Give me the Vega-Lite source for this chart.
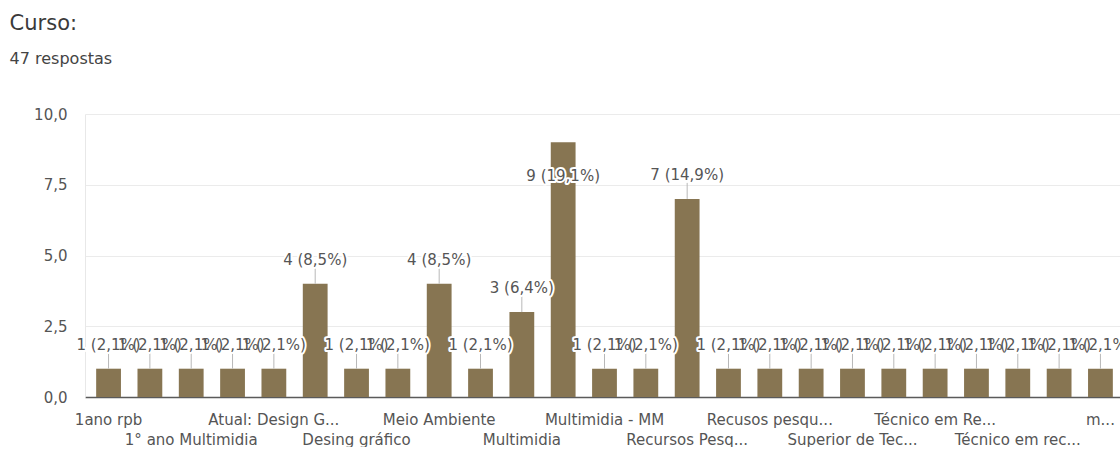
{
  "$schema": "https://vega.github.io/schema/vega-lite/v6.json",
  "width": 1039,
  "height": 283,
  "padding": {"left": 9, "top": 13, "right": 0, "bottom": 0},
  "background": "white",
  "title": {
    "text": "Curso:",
    "subtitle": "47 respostas",
    "anchor": "start",
    "frame": "bounds",
    "dx": -24,
    "font": "DejaVu Sans",
    "fontSize": 21,
    "fontWeight": "normal",
    "color": "#3a3a3a",
    "subtitleFont": "DejaVu Sans",
    "subtitleFontSize": 16,
    "subtitleColor": "#444444",
    "subtitlePadding": 17,
    "offset": 40
  },
  "data": {
    "values": [
      {"curso": "1ano rpb", "n": 1, "rotulo": "1 (2,1%)"},
      {"curso": "1° ano Design", "n": 1, "rotulo": "1 (2,1%)"},
      {"curso": "1° ano Multimidia", "n": 1, "rotulo": "1 (2,1%)"},
      {"curso": "Administração", "n": 1, "rotulo": "1 (2,1%)"},
      {"curso": "Atual: Design G...", "n": 1, "rotulo": "1 (2,1%)"},
      {"curso": "Design Gráfico", "n": 4, "rotulo": "4 (8,5%)"},
      {"curso": "Desing gráfico", "n": 1, "rotulo": "1 (2,1%)"},
      {"curso": "Gestão Ambiental", "n": 1, "rotulo": "1 (2,1%)"},
      {"curso": "Meio Ambiente", "n": 4, "rotulo": "4 (8,5%)"},
      {"curso": "Moda", "n": 1, "rotulo": "1 (2,1%)"},
      {"curso": "Multimidia", "n": 3, "rotulo": "3 (6,4%)"},
      {"curso": "Multimídia", "n": 9, "rotulo": "9 (19,1%)"},
      {"curso": "Multimidia - MM", "n": 1, "rotulo": "1 (2,1%)"},
      {"curso": "Pedagogia", "n": 1, "rotulo": "1 (2,1%)"},
      {"curso": "Recursos Pesq...", "n": 7, "rotulo": "7 (14,9%)"},
      {"curso": "Recursos pesqueiros", "n": 1, "rotulo": "1 (2,1%)"},
      {"curso": "Recusos pesqu...", "n": 1, "rotulo": "1 (2,1%)"},
      {"curso": "Redes de Computadores", "n": 1, "rotulo": "1 (2,1%)"},
      {"curso": "Superior de Tec...", "n": 1, "rotulo": "1 (2,1%)"},
      {"curso": "Técnico em Pesca", "n": 1, "rotulo": "1 (2,1%)"},
      {"curso": "Técnico em Re...", "n": 1, "rotulo": "1 (2,1%)"},
      {"curso": "Técnico em Recursos P...", "n": 1, "rotulo": "1 (2,1%)"},
      {"curso": "Técnico em rec...", "n": 1, "rotulo": "1 (2,1%)"},
      {"curso": "Zootecnia", "n": 1, "rotulo": "1 (2,1%)"},
      {"curso": "m...", "n": 1, "rotulo": "1 (2,1%)"}
    ]
  },
  "encoding": {
    "x": {
      "field": "curso",
      "type": "nominal",
      "sort": null,
      "scale": {"paddingInner": 0.4, "paddingOuter": 0.27},
      "axis": {
        "title": null,
        "ticks": false,
        "labelAngle": 0,
        "labelFont": "DejaVu Sans",
        "labelFontSize": 15,
        "labelColor": "#555555",
        "labelPadding": 15,
        "labelLineHeight": 20,
        "labelOverlap": false,
        "labelLimit": 250,
        "domainColor": "#5a5a5a",
        "domainWidth": 1.5,
        "grid": false,
        "labelExpr": "indexof(['1ano rpb','Atual: Design G...','Meio Ambiente','Multimidia - MM','Recusos pesqu...','Técnico em Re...','m...'], datum.value) >= 0 ? datum.value : (indexof(['1° ano Multimidia','Desing gráfico','Multimidia','Recursos Pesq...','Superior de Tec...','Técnico em rec...'], datum.value) >= 0 ? ['', datum.value] : '')"
      }
    },
    "y": {
      "field": "n",
      "type": "quantitative",
      "scale": {"domain": [0, 10], "nice": false},
      "axis": {
        "title": null,
        "values": [0, 2.5, 5, 7.5, 10],
        "ticks": false,
        "domain": true,
        "domainColor": "#e8e8e8",
        "labelPadding": 18,
        "labelFont": "DejaVu Sans",
        "labelFontSize": 15,
        "labelColor": "#555555",
        "gridColor": "#ebebeb",
        "labelExpr": "replace(format(datum.value, '.1f'), '.', ',')"
      }
    }
  },
  "layer": [
    {"mark": {"type": "bar", "color": "#877552"}},
    {
      "transform": [{"filter": "datum.n != 9"}],
      "mark": {"type": "rule", "color": "#b8b8b8", "strokeWidth": 1, "y2Offset": -16},
      "encoding": {"y2": {"field": "n"}}
    },
    {
      "transform": [{"filter": "datum.n != 9"}],
      "mark": {"type": "text", "font": "DejaVu Sans", "fontSize": 15, "baseline": "middle", "dy": -24, "fill": "white", "stroke": "white", "strokeWidth": 4, "strokeJoin": "round"},
      "encoding": {"text": {"field": "rotulo"}}
    },
    {
      "transform": [{"filter": "datum.n == 9"}],
      "mark": {"type": "text", "font": "DejaVu Sans", "fontSize": 15, "baseline": "middle", "dy": 34, "fill": "white", "stroke": "white", "strokeWidth": 4, "strokeJoin": "round"},
      "encoding": {"text": {"field": "rotulo"}}
    },
    {
      "transform": [{"filter": "datum.n != 9"}],
      "mark": {"type": "text", "font": "DejaVu Sans", "fontSize": 15, "baseline": "middle", "dy": -24, "fill": "#555555"},
      "encoding": {"text": {"field": "rotulo"}}
    },
    {
      "transform": [{"filter": "datum.n == 9"}],
      "mark": {"type": "text", "font": "DejaVu Sans", "fontSize": 15, "baseline": "middle", "dy": 34, "fill": "#555555"},
      "encoding": {"text": {"field": "rotulo"}}
    }
  ],
  "config": {"view": {"stroke": null}}
}
